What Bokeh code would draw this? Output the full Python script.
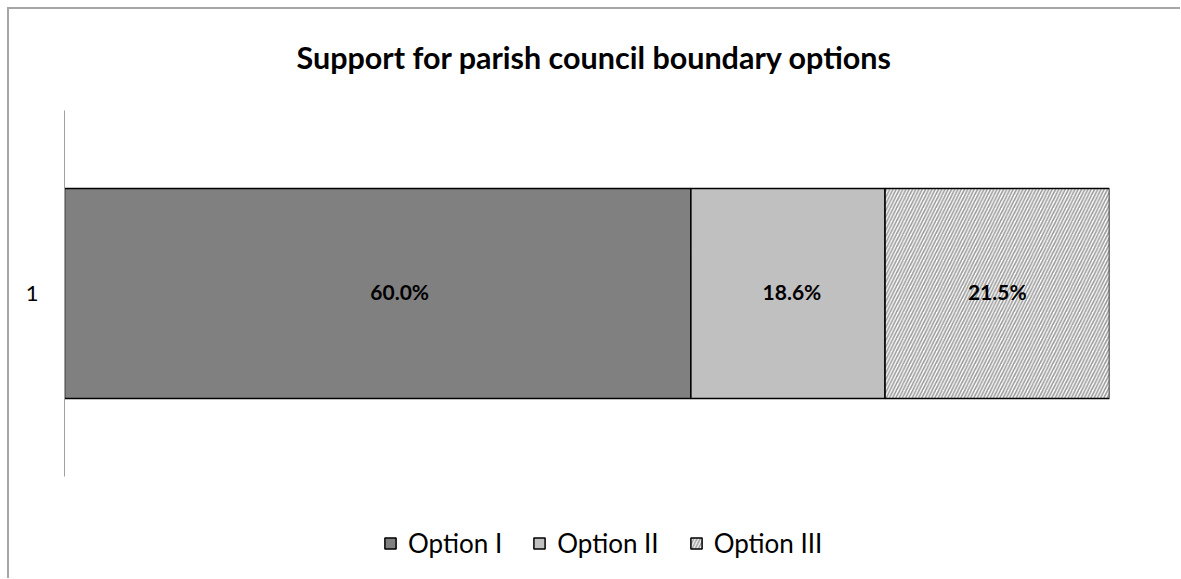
from bokeh.plotting import figure
from bokeh.models import (ColumnDataSource, Range1d, Legend, LegendItem, LabelSet,
                          FixedTicker, InlineStyleSheet)
from bokeh.core.properties import value
from bokeh.embed import file_html
from bokeh.resources import INLINE

# ---- data ----
title = "Support for parish council boundary options"
categories = ["1"]
series = ["Option I", "Option II", "Option III"]
values = [60.0, 18.6, 21.5]

# ---- styles ----
fill_colors = ["#808080", "#c0c0c0", "#ffffff"]
hatches = [None, None, "/"]
label_offsets = [22, 4, 0]
FONT = "Lato"

total = sum(values)
lefts, rights, centers = [], [], []
acc = 0.0
for v in values:
    lefts.append(acc)
    centers.append(acc + v / 2)
    acc += v
    rights.append(acc)

# category positions on the value axis (one slot per category)
cat_pos = [i + 0.5 for i in range(len(categories))]
n_cat = len(categories)

p = figure(width=1180, height=578, output_backend="svg", toolbar_location=None,
           x_range=Range1d(0, total), y_range=Range1d(-0.2787 * n_cat, n_cat),
           min_border_left=64, min_border_right=71, min_border_top=110, min_border_bottom=0,
           outline_line_color=None, border_fill_color=None, background_fill_color=None)

rs = []
for i, s in enumerate(series):
    src = ColumnDataSource(dict(y=cat_pos, left=[lefts[i]], right=[rights[i]]))
    kw = dict(fill_color=fill_colors[i], line_color="black", line_width=1.5)
    if hatches[i]:
        kw.update(hatch_pattern=hatches[i], hatch_color="#9a9a9a", hatch_scale=6.5, hatch_weight=1.6)
    rs.append(p.hbar(y="y", left="left", right="right", height=0.574, source=src, **kw))

lab_src = ColumnDataSource(dict(x=centers, y=cat_pos * len(values),
                                t=[f"{v:.1f}%" for v in values], xo=label_offsets))
p.add_layout(LabelSet(x="x", y="y", text="t", x_offset="xo", y_offset=2, source=lab_src,
                      text_align="center", text_baseline="middle",
                      text_font=value(FONT), text_font_style="bold", text_font_size="21px",
                      text_color="black"))

p.xaxis.visible = False
p.xgrid.visible = False
p.ygrid.visible = False
p.yaxis.ticker = FixedTicker(ticks=cat_pos, minor_ticks=[])
p.yaxis.major_label_overrides = {cp: c for cp, c in zip(cat_pos, categories)}
p.yaxis.bounds = (0, n_cat)
p.yaxis.axis_line_color = "#a0a0a0"
p.yaxis.major_tick_line_color = None
p.yaxis.minor_tick_line_color = None
p.yaxis.major_label_standoff = 20
p.yaxis.major_label_text_font = FONT
p.yaxis.major_label_text_font_size = "22px"
p.yaxis.major_label_text_color = "black"

p.title.text = title
p.title.align = "left"
p.title.offset = 232
p.title.text_font = FONT
p.title.text_font_style = "bold"
p.title.text_font_size = "30.5px"
p.title.text_color = "black"
p.title.standoff = 72

items = [LegendItem(label=s, renderers=[r]) for s, r in zip(series, rs)]
leg = Legend(items=items, orientation="horizontal", location=(319, 19),
             border_line_color=None, background_fill_alpha=0,
             label_text_font=FONT, label_text_font_size="26px", label_text_color="black",
             glyph_width=14, glyph_height=14, label_standoff=11, spacing=30,
             padding=5, margin=0)
p.add_layout(leg, "center")

# outer chart-area border: only its left and top edges fall inside the window
p.stylesheets = [InlineStyleSheet(css=(
    ":host { background:"
    " linear-gradient(#a6a6a6, #a6a6a6) 7px 7px / 2px 100% no-repeat,"
    " linear-gradient(#a6a6a6, #a6a6a6) 7px 7px / 100% 2px no-repeat,"
    " #ffffff; }"))]

open("out.html", "w").write(file_html(p, INLINE))
